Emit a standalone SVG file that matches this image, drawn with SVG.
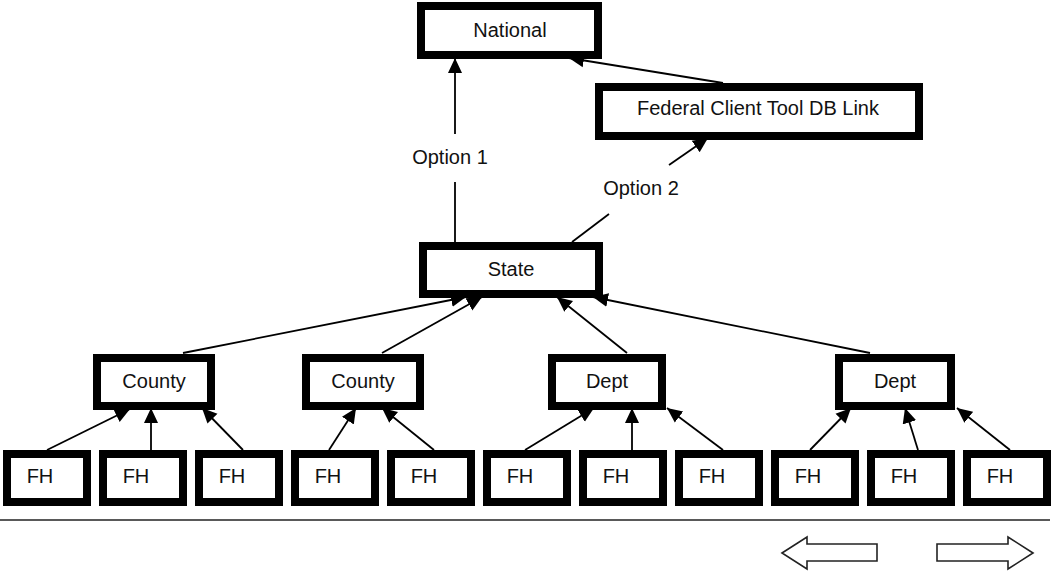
<svg xmlns="http://www.w3.org/2000/svg" width="1053" height="576" viewBox="0 0 1053 576">
<defs>
<marker id="ah" markerUnits="userSpaceOnUse" markerWidth="16" markerHeight="16" viewBox="0 0 16 16" refX="15" refY="8" orient="auto">
<path d="M0,1 L15,8 L0,15 Z" fill="#000"/>
</marker>
</defs>
<style>
.box{fill:#fff;stroke:#000;stroke-width:8}
.t{font-family:"Liberation Sans",Arial,sans-serif;font-size:20px;fill:#111;text-anchor:middle}
.c{stroke:#000;stroke-width:1.8;fill:none}
.a{marker-end:url(#ah)}
.nav{fill:#fff;stroke:#222;stroke-width:1.6}
</style>
<rect width="1053" height="576" fill="#fff"/>
<g id="connectors">
<line class="c a" x1="455" y1="134" x2="455" y2="58"/>
<line class="c" x1="455" y1="182" x2="455" y2="242"/>
<line class="c a" x1="723" y1="83" x2="569" y2="58"/>
<line class="c a" x1="669" y1="165" x2="708" y2="138"/>
<line class="c" x1="572" y1="242" x2="609" y2="214"/>
<line class="c a" x1="183" y1="353" x2="466" y2="297"/>
<line class="c a" x1="382" y1="353" x2="482" y2="297"/>
<line class="c a" x1="627" y1="353" x2="557" y2="297"/>
<line class="c a" x1="870" y1="353" x2="593" y2="297"/>
<line class="c a" x1="47" y1="450" x2="130" y2="409"/>
<line class="c a" x1="151" y1="450" x2="151" y2="408"/>
<line class="c a" x1="243" y1="450" x2="202" y2="408"/>
<line class="c a" x1="329" y1="450" x2="356" y2="408"/>
<line class="c a" x1="434" y1="450" x2="382" y2="408"/>
<line class="c a" x1="525" y1="450" x2="594" y2="408"/>
<line class="c a" x1="632" y1="450" x2="632" y2="408"/>
<line class="c a" x1="723" y1="450" x2="667" y2="408"/>
<line class="c a" x1="810" y1="450" x2="851" y2="408"/>
<line class="c a" x1="918" y1="450" x2="905" y2="408"/>
<line class="c a" x1="1010" y1="450" x2="957" y2="408"/>
</g>
<text class="t" x="450" y="164">Option 1</text>
<text class="t" x="641" y="195">Option 2</text>
<g id="national"><rect class="box" x="421" y="6" width="177" height="49"/><text class="t" x="510" y="37">National</text></g>
<g id="federal"><rect class="box" x="599" y="87" width="320" height="49"/><text class="t" x="758" y="115">Federal Client Tool DB Link</text></g>
<g id="state"><rect class="box" x="423" y="246" width="176" height="48"/><text class="t" x="511" y="276">State</text></g>
<g id="county1"><rect class="box" x="97" y="358" width="114" height="48"/><text class="t" x="154" y="388">County</text></g>
<g id="county2"><rect class="box" x="306" y="358" width="114" height="48"/><text class="t" x="363" y="388">County</text></g>
<g id="dept1"><rect class="box" x="552" y="358" width="110" height="48"/><text class="t" x="607" y="388">Dept</text></g>
<g id="dept2"><rect class="box" x="839" y="358" width="112" height="48"/><text class="t" x="895" y="388">Dept</text></g>
<g id="fh1"><rect class="box" x="7" y="454" width="80" height="48"/><text class="t" x="40" y="483">FH</text></g>
<g id="fh2"><rect class="box" x="103" y="454" width="80" height="48"/><text class="t" x="136" y="483">FH</text></g>
<g id="fh3"><rect class="box" x="199" y="454" width="80" height="48"/><text class="t" x="232" y="483">FH</text></g>
<g id="fh4"><rect class="box" x="295" y="454" width="80" height="48"/><text class="t" x="328" y="483">FH</text></g>
<g id="fh5"><rect class="box" x="391" y="454" width="80" height="48"/><text class="t" x="424" y="483">FH</text></g>
<g id="fh6"><rect class="box" x="487" y="454" width="80" height="48"/><text class="t" x="520" y="483">FH</text></g>
<g id="fh7"><rect class="box" x="583" y="454" width="80" height="48"/><text class="t" x="616" y="483">FH</text></g>
<g id="fh8"><rect class="box" x="679" y="454" width="80" height="48"/><text class="t" x="712" y="483">FH</text></g>
<g id="fh9"><rect class="box" x="775" y="454" width="80" height="48"/><text class="t" x="808" y="483">FH</text></g>
<g id="fh10"><rect class="box" x="871" y="454" width="80" height="48"/><text class="t" x="904" y="483">FH</text></g>
<g id="fh11"><rect class="box" x="967" y="454" width="80" height="48"/><text class="t" x="1000" y="483">FH</text></g>
<line x1="0" y1="520" x2="1050" y2="520" stroke="#222" stroke-width="1.5"/>
<path class="nav" d="M782,553 L807,537 L807,544 L877,544 L877,561 L807,561 L807,569 Z"/>
<path class="nav" d="M1033,553 L1008,537 L1008,544 L937,544 L937,561 L1008,561 L1008,569 Z"/>
</svg>
